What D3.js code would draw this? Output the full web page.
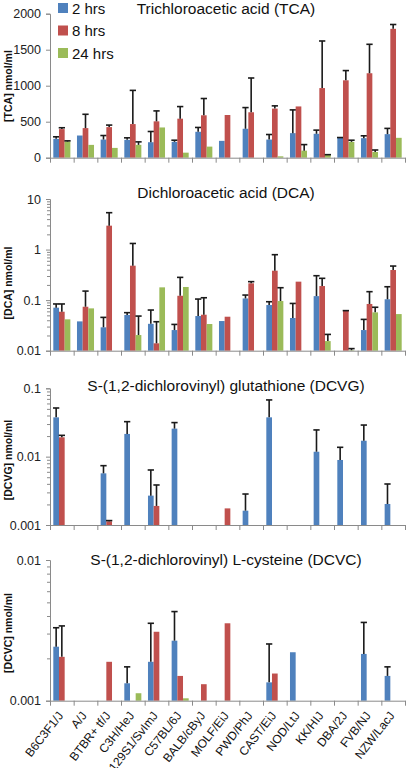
<!DOCTYPE html>
<html><head><meta charset="utf-8">
<script src="https://cdn.jsdelivr.net/npm/d3@7"></script>
<style>
body{margin:0;background:#fff;}
svg{display:block;font-family:"Liberation Sans",Arial,sans-serif;}
</style></head>
<body><svg id="c" width="410" height="768"></svg>
<script>
// ---------- data ----------
const categories = ["B6C3F1/J","A/J","BTBR+ tf/J","C3H/HeJ","129S1/SvImJ","C57BL/6J","BALB/cByJ","MOLF/EiJ","PWD/PhJ","CAST/EiJ","NOD/LtJ","KK/HIJ","DBA/2J","FVB/NJ","NZW/LacJ"];
const seriesNames = ["2 hrs","8 hrs","24 hrs"];
const seriesColors = ["#4F81BD","#C0504D","#9BBB59"];

const tca2h   = [262,308,252,248,215,220,360,234,402,252,341,332,276,271,327];
const tca2hErr= [28,0,56,28,149,23,60,0,294,70,323,51,4,33,80];
const tca8h   = [397,411,425,467,505,542,589,593,631,682,712,967,1075,1173,1790];
const tca8hErr= [19,192,28,468,145,168,233,0,476,38,0,654,135,402,60];
const tca24h  = [224,178,136,178,420,70,154,null,null,19,98,37,220,79,276];
const tca24hErr=[10,0,0,42,0,0,0,0,0,0,84,5,23,28,0];
const tcaTicks = [0,500,1000,1500,2000];

const dca2h   = [0.071,0.038,0.029,0.051,0.034,0.0256,0.0485,0.0386,0.108,0.080,0.0443,0.120,null,0.0256,0.104];
const dca2hErr= [0.013,0,0.0166,0.0055,0.0297,0.0075,0.0565,0,0.018,0.013,0.0417,0.184,0,0.016,0.08];
const dca8h   = [0.059,0.074,2.97,0.48,0.014,0.122,0.0515,0.047,0.215,0.382,0.232,0.19,0.061,0.084,0.394];
const dca8hErr= [0.025,0.077,2.39,0.84,0.0234,0.16,0.06,0,0.017,0.41,0,0.08,0.001,0.063,0.078];
const dca24h  = [0.0417,0.0687,null,0.0204,0.179,0.182,0.0337,null,null,0.096,null,0.0155,0.0102,0.0573,0.053];
const dca24hErr=[0,0,0,0.028,0,0,0,0,0,0.08,0,0.0055,0.0008,0.015,0];
const dcaTicks = [0.01,0.1,1,10];
const dcaTickLabels = ["0.01","0.1","1","10"];

const dcvg2h   = [0.0376,null,0.0057,0.0215,0.00269,0.0257,null,null,0.00162,0.0376,null,0.0118,0.00894,0.0171,0.00203];
const dcvg2hErr= [0.0139,0,0.00168,0.011,0.00369,0.0058,0,0,0.00122,0.03,0,0.0128,0.00476,0.0119,0.00195];
const dcvg8h   = [0.0192,null,0.00113,null,0.0019,null,null,0.00175,null,null,null,null,null,null,null];
const dcvg8hErr= [0.0013,0,0.00003,0,0.00195,0,0,0,0,0,0,0,0,0,0];
const dcvg24h  = [null,null,null,null,null,null,null,null,null,null,null,null,null,null,null];
const dcvg24hErr=[0,0,0,0,0,0,0,0,0,0,0,0,0,0,0];
const dcvgTicks = [0.001,0.01,0.1];
const dcvgTickLabels = ["0.001","0.01","0.1"];

const dcvc2h   = [0.00242,null,null,0.00133,0.00189,0.00267,null,null,null,0.00135,0.00221,null,null,0.00215,0.0015];
const dcvc2hErr= [0.00088,0,0,0.00041,0.00166,0.00163,0,0,0,0.00118,0,0,0,0.00145,0.00024];
const dcvc8h   = [0.00205,null,0.00189,null,0.00309,0.0015,0.00131,0.00355,null,0.00156,null,null,null,null,null];
const dcvc8hErr= [0.00135,0,0,0,0,0,0,0,0,0,0,0,0,0,0];
const dcvc24h  = [null,null,null,0.00113,null,0.00104,null,null,null,null,null,null,null,null,null];
const dcvc24hErr=[0,0,0,0,0,0,0,0,0,0,0,0,0,0,0];
const dcvcTicks = [0.001,0.01];
const dcvcTickLabels = ["0.001","0.01"];

// ---------- layout ----------
const svg = d3.select("#c");
const X0 = 50, X1 = 405;
const xBand = d3.scaleBand().domain(categories).range([X0, X1]).padding(0);
const xSeries = d3.scaleBand().domain(seriesNames).range([0.14*xBand.bandwidth(), 0.86*xBand.bandwidth()]).padding(0);
const xEdge = d3.scaleLinear().domain([0, categories.length]).range([X0, X1]);
const axisColor = "#8a8a8a";

const panels = [
  {title:"Trichloroacetic acid (TCA)", ylabel:"[TCA] nmol/ml", log:false, domain:[0,2000], range:[157.7,13.7],
   ticks:tcaTicks, tickLabels:tcaTicks.map(String), vals:[tca2h,tca8h,tca24h], errs:[tca2hErr,tca8hErr,tca24hErr],
   titleY:14, labelY:86, legend:true},
  {title:"Dichloroacetic acid (DCA)", ylabel:"[DCA] nmol/ml", log:true, domain:[0.01,10], range:[350.7,199],
   ticks:dcaTicks, tickLabels:dcaTickLabels, vals:[dca2h,dca8h,dca24h], errs:[dca2hErr,dca8hErr,dca24hErr],
   titleY:197.5, labelY:283},
  {title:"S-(1,2-dichlorovinyl) glutathione (DCVG)", ylabel:"[DCVG] nmol/ml", log:true, domain:[0.001,0.1], range:[525,388.3],
   ticks:dcvgTicks, tickLabels:dcvgTickLabels, vals:[dcvg2h,dcvg8h,dcvg24h], errs:[dcvg2hErr,dcvg8hErr,dcvg24hErr],
   titleY:391, labelY:460},
  {title:"S-(1,2-dichlorovinyl) L-cysteine (DCVC)", ylabel:"[DCVC] nmol/ml", log:true, domain:[0.001,0.01], range:[700.7,560],
   ticks:dcvcTicks, tickLabels:dcvcTickLabels, vals:[dcvc2h,dcvc8h,dcvc24h], errs:[dcvc2hErr,dcvc8hErr,dcvc24hErr],
   titleY:565, labelY:633, xlabels:true}
];

panels.forEach(p => {
  const y = (p.log ? d3.scaleLog() : d3.scaleLinear()).domain(p.domain).range(p.range);
  const g = svg.append("g");
  const base = y(p.domain[0]);

  // bars
  p.vals.forEach((arr, si) => {
    const data = arr.map((v, i) => ({v, e: p.errs[si][i], c: categories[i]})).filter(d => d.v != null);
    const bw = xSeries.bandwidth();
    g.selectAll(null).data(data).enter().append("rect")
      .attr("x", d => xBand(d.c) + xSeries(seriesNames[si]))
      .attr("width", bw)
      .attr("y", d => y(d.v))
      .attr("height", d => base - y(d.v))
      .attr("fill", seriesColors[si]);
    const ed = data.filter(d => d.e > 0);
    const cx = d => xBand(d.c) + xSeries(seriesNames[si]) + bw/2;
    g.selectAll(null).data(ed).enter().append("line")
      .attr("x1", cx).attr("x2", cx)
      .attr("y1", d => y(d.v)).attr("y2", d => y(d.v + d.e))
      .attr("stroke", "#1a1a1a").attr("stroke-width", 1.6);
    g.selectAll(null).data(ed).enter().append("line")
      .attr("x1", d => cx(d) - bw/2 - 0.3).attr("x2", d => cx(d) + bw/2 + 0.3)
      .attr("y1", d => y(d.v + d.e)).attr("y2", d => y(d.v + d.e))
      .attr("stroke", "#1a1a1a").attr("stroke-width", 1.6);
  });

  // y axis
  const ax = g.append("g").attr("transform", `translate(${X0},0)`)
    .call(d3.axisLeft(y).tickValues(p.ticks).tickSize(4).tickPadding(5)
      .tickFormat((d, i) => p.tickLabels[i]));
  ax.select(".domain").attr("stroke", axisColor);
  ax.selectAll(".tick line").attr("stroke", axisColor);
  ax.selectAll(".tick text").attr("fill", "#222").style("font-size", "12.5px")
     .style("font-family", '"Liberation Sans",Arial,sans-serif');
  if (p.log) {
    const minor = [];
    for (let dec = p.domain[0]; dec < p.domain[1] * 0.999; dec *= 10)
      for (let k = 2; k <= 9; k++) minor.push(dec * k);
    const mx = g.append("g").attr("transform", `translate(${X0},0)`)
      .call(d3.axisLeft(y).tickValues(minor).tickSize(3).tickFormat(""));
    mx.select(".domain").remove();
    mx.selectAll(".tick line").attr("stroke", axisColor);
  }

  // x axis
  const xa = g.append("g").attr("transform", `translate(0,${base})`)
    .call(d3.axisBottom(xEdge).tickValues(d3.range(0, categories.length + 1)).tickSize(5).tickFormat("").tickSizeOuter(0));
  xa.select(".domain").attr("stroke", axisColor);
  xa.selectAll(".tick line").attr("stroke", axisColor);

  // title
  g.append("text").attr("x", 226).attr("y", p.titleY).attr("text-anchor", "middle")
    .style("font-size", "15.5px").attr("fill", "#111").text(p.title);
  // y label
  g.append("text").attr("transform", `translate(12,${p.labelY}) rotate(-90)`)
    .attr("text-anchor", "middle").style("font-size", "10.5px").style("font-weight", "bold")
    .attr("fill", "#111").text(p.ylabel);

  if (p.legend) {
    seriesNames.forEach((s, i) => {
      const ly = 3 + i * 22.5;
      g.append("rect").attr("x", 58).attr("y", ly).attr("width", 10).attr("height", 10).attr("fill", seriesColors[i]);
      g.append("text").attr("x", 72).attr("y", ly + 10.5).style("font-size", "15px").attr("fill", "#111").text(s);
    });
  }

  if (p.xlabels) {
    g.selectAll(null).data(categories).enter().append("text")
      .attr("transform", d => `translate(${xBand(d) + xBand.bandwidth()/2 + 2},${base + 15}) rotate(-52)`)
      .attr("text-anchor", "end").style("font-size", "12px").attr("fill", "#111").text(d => d);
  }
});
</script>
</body></html>
